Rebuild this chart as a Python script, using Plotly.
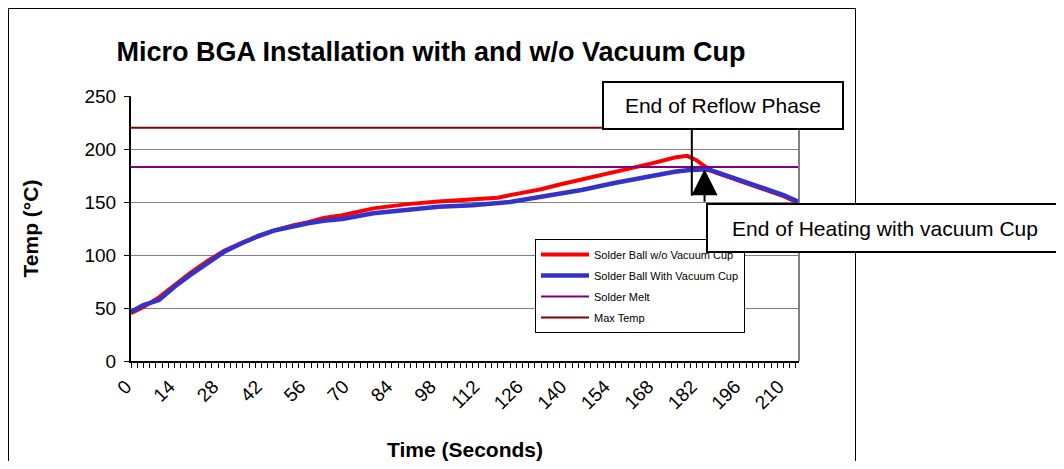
import plotly.graph_objects as go

# ---- data ----
time_s = [0, 4, 9, 14, 19, 25, 30, 36, 41, 46, 52, 57, 62, 68, 78, 89, 99, 110, 118, 122,
          132, 138, 145, 156, 167, 175, 179, 182, 185, 188, 199, 210, 215]
temp_without_cup = [45, 51, 60, 72, 83, 95, 104, 112, 118, 123, 128, 131, 135, 137.5, 144, 148,
                    150.5, 152.5, 154, 156.5, 162, 166.5, 171, 178.5, 186, 192, 193.5, 189.5,
                    183, 178, 167, 155.5, 149]
temp_with_cup = [46.5, 52.8, 57.5, 70, 81, 93.7, 103, 111.5, 118, 123, 127, 130, 132.4, 134,
                 139.3, 143, 145.6, 147, 148.7, 150, 155, 158, 161.3, 168.2, 174.5, 178.6, 180,
                 180.8, 180.8, 178.6, 167.6, 156.6, 150]
melt_x = [0, 215]
solder_melt = [183, 183]
max_temp = [220, 220]
x_ticks = list(range(0, 211, 14))
y_ticks = [0, 50, 100, 150, 200, 250]
reflow_end_t = 180.5
heating_end_t = 184.6

FONT = "Arial, Liberation Sans, sans-serif"

fig = go.Figure()
fig.add_trace(go.Scatter(x=time_s, y=temp_without_cup, mode="lines",
                         name="Solder Ball w/o Vacuum Cup", legendgroup="a",
                         line=dict(color="#FF0000", width=4)))
fig.add_trace(go.Scatter(x=time_s, y=temp_with_cup, mode="lines",
                         name="Solder Ball With Vacuum Cup", legendgroup="b",
                         line=dict(color="#3333CC", width=4.5)))
fig.add_trace(go.Scatter(x=melt_x, y=solder_melt, mode="lines", name="Solder Melt",
                         legendgroup="c", line=dict(color="#800080", width=2)))
fig.add_trace(go.Scatter(x=melt_x, y=max_temp, mode="lines", name="Max Temp",
                         legendgroup="d", line=dict(color="#800000", width=2)))

# page has an 8px body margin: figure pixel = reference pixel - 8
OFF = 8
W, H = 1064 - 2 * OFF, 469 - 2 * OFF
L, R, T, B = 131 - OFF, 799 - OFF, 96 - OFF, 361 - OFF
pw, ph = R - L, B - T

def px(xp):
    return (xp - OFF - L) / pw

def py(yp):
    return (B - (yp - OFF)) / ph

fig.update_layout(
    width=W, height=H,
    margin=dict(l=L, r=W - R, t=T, b=H - B, autoexpand=False),
    paper_bgcolor="white", plot_bgcolor="white",
    font=dict(family=FONT, color="black"),
    title=dict(text="<b>Micro BGA Installation with and w/o Vacuum Cup</b>",
               x=(431 - OFF) / W, xanchor="center", xref="container",
               y=1 - (52 - OFF) / H, yanchor="middle", yref="container",
               font=dict(size=27, family=FONT, color="black")),
    showlegend=True,
    legend=dict(x=px(535), y=py(239), xanchor="left", yanchor="top",
                bordercolor="black", borderwidth=1, bgcolor="white",
                font=dict(size=11, family=FONT, color="black"),
                tracegroupgap=2, itemwidth=48),
)

fig.update_xaxes(range=[0, 215], tickmode="array", tickvals=x_ticks,
                 ticktext=[str(v) for v in x_ticks], tickangle=-45,
                 tickfont=dict(size=19, family=FONT, color="black"),
                 ticklabelshift=-5,
                 ticks="outside", ticklen=5, tickcolor="black", tickwidth=1,
                 minor=dict(dtick=2, tick0=0, ticks="outside", ticklen=5,
                            tickcolor="black", tickwidth=1, showgrid=False),
                 showline=True, linecolor="black", linewidth=2, showgrid=False,
                 zeroline=False,
                 title=dict(text="<b>Time (Seconds)</b>", standoff=38,
                            font=dict(size=21, family=FONT, color="black")))
fig.update_yaxes(range=[0, 250], tickmode="array", tickvals=y_ticks,
                 tickfont=dict(size=19, family=FONT, color="black"),
                 ticks="outside", ticklen=5, tickcolor="black", tickwidth=1,
                 ticklabelstandoff=4,
                 showline=True, linecolor="black", linewidth=2,
                 showgrid=True, gridcolor="#808080", gridwidth=1, zeroline=False,
                 title=dict(text="<b>Temp (°C)</b>", standoff=40,
                            font=dict(size=21, family=FONT, color="black")))

# right border of plot area (gray)
fig.add_shape(type="line", xref="paper", yref="paper", x0=1, x1=1, y0=0, y1=1,
              line=dict(color="#808080", width=2))
# outer chart border
fig.add_shape(type="rect", xref="paper", yref="paper",
              x0=px(8.5), x1=px(855.5), y0=py(480), y1=py(8.5),
              line=dict(color="black", width=1), layer="above")
# end of reflow line
fig.add_shape(type="line", xref="x", yref="y", x0=reflow_end_t, x1=reflow_end_t,
              y0=156, y1=220, line=dict(color="black", width=2))

# annotation boxes
fig.add_annotation(xref="paper", yref="paper", x=px(602), y=py(81),
                   xanchor="left", yanchor="top", showarrow=False,
                   text="End of Reflow Phase", width=236, height=43,
                   bgcolor="white", bordercolor="black", borderwidth=2,
                   font=dict(size=21, family=FONT, color="black"))
fig.add_annotation(xref="paper", yref="paper", x=px(706), y=py(203),
                   xanchor="left", yanchor="top", showarrow=False,
                   text="End of Heating with vacuum Cup", width=352, height=44,
                   bgcolor="white", bordercolor="black", borderwidth=2,
                   font=dict(size=21, family=FONT, color="black"))
# arrow
fig.add_annotation(xref="x", yref="y", x=heating_end_t, y=181, text="",
                   showarrow=True, ax=0, ay=34, arrowhead=2, arrowsize=2.6,
                   arrowwidth=2, arrowcolor="black")

fig.write_html("out.html")
